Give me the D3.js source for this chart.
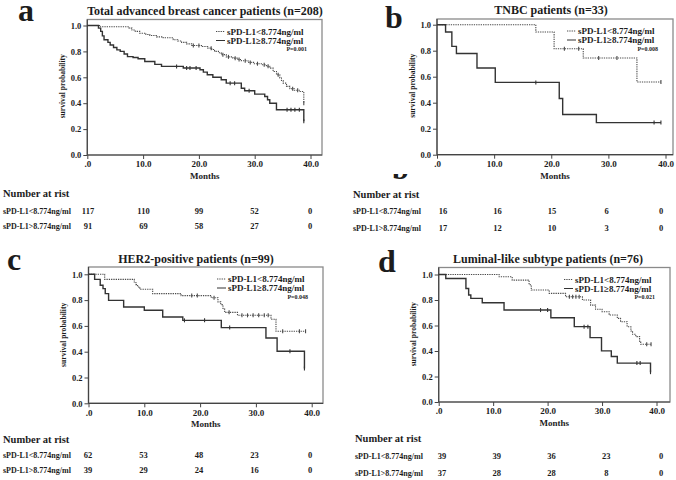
<!DOCTYPE html>
<html><head><meta charset="utf-8">
<script src="https://cdn.jsdelivr.net/npm/d3@7"></script>
<style>
body{margin:0;background:#fff}
svg{display:block}
text{font-family:"Liberation Serif","Times New Roman",serif;font-weight:bold;fill:#1c1c1c}
</style>
</head><body>
<svg id="chart" width="676" height="480"></svg>
<script>
// ---------- data ----------
const months = [0, 10, 20, 30, 40];
const monthLabels = [".0", "10.0", "20.0", "30.0", "40.0"];
const survTicks = [0, 0.2, 0.4, 0.6, 0.8, 1.0];
const survLabels = ["0.0", "0.2", "0.4", "0.6", "0.8", "1.0"];
const legendNames = ["sPD-L1<8.774ng/ml", "sPD-L1\u22658.774ng/ml"];
const riskNames = ["sPD-L1<8.774ng/ml", "sPD-L1>8.774ng/ml"];
const panelLetters = ["a", "b", "c", "d"];
const panelTitles = ["Total advanced breast cancer patients (n=208)", "TNBC patients (n=33)",
  "HER2-positive patients (n=99)", "Luminal-like subtype patients (n=76)"];
const pValues = ["P=0.001", "P=0.008", "P=0.048", "P=0.021"];

// Kaplan-Meier steps [month, survival] and censor times
const aLow = [[0,1],[2.2,0.99],[7.5,0.98],[8.0,0.965],[8.6,0.955],[9.4,0.94],[10.5,0.93],[11.2,0.923],[12.4,0.912],[13.6,0.905],[15.4,0.89],[16.2,0.88],[16.9,0.87],[17.8,0.858],[18.7,0.846],[20.6,0.838],[21.6,0.825],[22.3,0.815],[22.8,0.80],[23.5,0.79],[24.0,0.775],[24.9,0.758],[26.1,0.748],[27.0,0.738],[27.6,0.728],[28.8,0.715],[29.8,0.705],[31.2,0.697],[32.1,0.685],[32.7,0.671],[33.3,0.645],[33.9,0.62],[34.5,0.595],[34.8,0.575],[35.1,0.555],[35.7,0.53],[36.3,0.512],[37.1,0.50],[38.0,0.49],[38.8,0.40]];
const aLowCensor = [19.0,20.0,22.2,24.3,25.3,26.5,27.2,28.3,29.2,30.5,31.7,32.4,34.2,36.8,37.7,38.8];
const aHigh = [[0,1],[2.0,0.98],[2.4,0.955],[2.7,0.92],[3.0,0.89],[3.7,0.87],[4.1,0.85],[4.7,0.83],[5.3,0.812],[5.9,0.80],[6.6,0.78],[7.2,0.76],[8.2,0.753],[9.1,0.743],[10.3,0.722],[12.1,0.70],[13.3,0.684],[17.2,0.672],[20.2,0.658],[20.8,0.64],[21.5,0.62],[22.5,0.60],[24.0,0.581],[24.9,0.555],[27.6,0.515],[28.2,0.496],[30.0,0.47],[31.8,0.452],[32.3,0.427],[32.7,0.40],[33.9,0.35],[38.8,0.26]];
const aHighCensor = [16.0,17.8,18.4,19.5,25.6,26.4,29.0,35.8,36.5,37.2,38.0,38.8];

const bLow = [[0,1],[17.3,0.944],[20.5,0.815],[25.6,0.744],[35.0,0.559]];
const bLowCensor = [22.3,24.8,28.3,31.5,39.2];
const bHigh = [[0,1],[1.5,0.944],[2.6,0.833],[3.4,0.778],[7.0,0.667],[10.2,0.556],[21.4,0.432],[22.0,0.309],[27.9,0.247]];
const bHighCensor = [17.3,38.0,39.2];

const cLow = [[0,1],[2.9,0.961],[8.2,0.94],[8.5,0.92],[8.8,0.902],[9.2,0.884],[11.5,0.85],[16.6,0.835],[22.0,0.818],[23.2,0.786],[23.7,0.765],[24.1,0.73],[24.4,0.705],[26.7,0.682],[32.7,0.651],[33.6,0.558]];
const cLowCensor = [18.5,19.5,22.5,25.2,27.5,28.5,29.5,30.5,31.5,32.2,34.8,37.8,38.9];
const cHigh = [[0,1],[1.1,0.961],[2.1,0.915],[2.6,0.889],[3.0,0.85],[3.6,0.798],[6.3,0.747],[10.0,0.721],[13.3,0.669],[16.9,0.643],[23.8,0.587],[31.8,0.506],[33.8,0.403],[38.7,0.269]];
const cHighCensor = [17.2,20.8,25.3,36.1,38.7];

const dLow = [[0,1],[11.1,0.982],[13.5,0.956],[16.6,0.92],[17.0,0.878],[20.3,0.852],[23.3,0.826],[26.4,0.80],[27.9,0.76],[28.8,0.727],[30.0,0.708],[31.3,0.682],[32.8,0.656],[33.4,0.63],[34.6,0.59],[35.3,0.557],[35.6,0.531],[36.2,0.513],[36.9,0.474],[37.1,0.453]];
const dLowCensor = [24.0,24.6,25.2,25.8,38.2,39.0];
const dHigh = [[0,1],[1.3,0.969],[5.0,0.89],[5.5,0.839],[5.9,0.8125],[8.0,0.779],[12.0,0.721],[20.6,0.661],[24.9,0.591],[27.8,0.505],[29.9,0.401],[31.7,0.357],[32.8,0.305],[38.9,0.234]];
const dHighCensor = [18.7,20.0,26.7,27.4,36.4,37.0,38.9];

const aRisk = [[117,110,99,52,0],[91,69,58,27,0]];
const bRisk = [[16,16,15,6,0],[17,12,10,3,0]];
const cRisk = [[62,53,48,23,0],[39,29,24,16,0]];
const dRisk = [[39,39,36,23,0],[37,28,28,8,0]];

// ---------- layout ----------
const layout = [
  {x0:87.3,x40:310.5,yTop:25.5,yBot:155,fTop:19.5,fRight:322,titleX:205,titleY:15,letterX:18,letterY:21,riskX:3,riskCols:[88,310],riskY:[197,213.5,228.5]},
  {x0:437,x40:665.5,yTop:24.7,yBot:154.7,fTop:19,fRight:673,titleX:551,titleY:13.5,letterX:385,letterY:27.5,riskX:353,riskCols:[443,661],riskY:[198,213.5,231]},
  {x0:88.5,x40:311.7,yTop:274.3,yBot:403.3,fTop:267,fRight:323,titleX:196,titleY:262.5,letterX:7,letterY:270,riskX:3,riskCols:[88,310],riskY:[443,458,473]},
  {x0:438.7,x40:656.5,yTop:274.5,yBot:402,fTop:267.5,fRight:670,titleX:548,titleY:263,letterX:378,letterY:272,riskX:355,riskCols:[442,661],riskY:[442,458.5,476]}
];
const curves = [[aLow,aHigh],[bLow,bHigh],[cLow,cHigh],[dLow,dHigh]];
const censors = [[aLowCensor,aHighCensor],[bLowCensor,bHighCensor],[cLowCensor,cHighCensor],[dLowCensor,dHighCensor]];
const risks = [aRisk,bRisk,cRisk,dRisk];

const svg = d3.select("#chart");
svg.append("rect").attr("width",676).attr("height",480).attr("fill","#fff");

// clipped artefact glyph under panel b
svg.append("clipPath").attr("id","artClip").append("rect").attr("x",380).attr("y",174).attr("width",40).attr("height",5.5);
svg.append("text").attr("clip-path","url(#artClip)").attr("x",392).attr("y",179)
  .attr("font-size",30).text("b");

const styles = [
  {stroke:"#4a4a4a", width:1.1, dash:"1.3,1"},
  {stroke:"#333", width:1.4, dash:null}
];

function survAt(steps, t){
  let s = steps[0][1];
  for (const p of steps){ if (p[0] <= t + 1e-9) s = p[1]; }
  return s;
}

layout.forEach((L, i) => {
  const g = svg.append("g");
  const x = d3.scaleLinear().domain([0,40]).range([L.x0, L.x40]);
  const y = d3.scaleLinear().domain([0,1]).range([L.yBot, L.yTop]);

  // frame
  g.append("rect").attr("x",L.x0).attr("y",L.fTop).attr("width",L.fRight-L.x0).attr("height",L.yBot-L.fTop)
    .attr("fill","none").attr("stroke","#8a8a8a").attr("stroke-width",1.3);
  g.append("line").attr("x1",L.x0).attr("x2",L.x0).attr("y1",L.fTop).attr("y2",L.yBot).attr("stroke","#444").attr("stroke-width",1.2);
  g.append("line").attr("x1",L.x0).attr("x2",L.fRight).attr("y1",L.yBot).attr("y2",L.yBot).attr("stroke","#444").attr("stroke-width",1.2);

  // axes
  const ax = g.append("g").attr("transform",`translate(0,${L.yBot})`)
    .call(d3.axisBottom(x).tickValues(months).tickSize(4).tickPadding(2).tickFormat((d,k)=>monthLabels[k]));
  ax.select(".domain").remove();
  ax.selectAll("line").attr("stroke","#444");
  ax.selectAll("text").attr("font-size",9).attr("font-family","Liberation Serif").attr("font-weight","bold").attr("fill","#1c1c1c").attr("dy",null).attr("y",12.3);
  const ay = g.append("g").attr("transform",`translate(${L.x0},0)`)
    .call(d3.axisLeft(y).tickValues(survTicks).tickSize(4).tickPadding(2).tickFormat((d,k)=>survLabels[k]));
  ay.select(".domain").remove();
  ay.selectAll("line").attr("stroke","#444");
  ay.selectAll("text").attr("font-size",8.5).attr("font-family","Liberation Serif").attr("font-weight","bold").attr("fill","#1c1c1c");

  // axis titles
  g.append("text").attr("x",(L.x0+L.fRight)/2).attr("y",L.yBot+24).attr("text-anchor","middle").attr("font-size",9).text("Months");
  g.append("text").attr("transform",`translate(${L.x0-22.5},${(L.yTop+L.yBot)/2-4}) rotate(-90)`)
    .attr("text-anchor","middle").attr("font-size",7.6).text("survival probability");

  // title and letter
  g.append("text").attr("x",L.titleX).attr("y",L.titleY).attr("text-anchor","middle").attr("font-size",12).text(panelTitles[i]);
  g.append("text").attr("x",L.letterX).attr("y",L.letterY).attr("font-size",32).text(panelLetters[i]);

  // curves
  curves[i].forEach((steps, j) => {
    const st = styles[j];
    const endT = Math.max(steps[steps.length-1][0], d3.max(censors[i][j]));
    const pts = steps.concat([[endT, steps[steps.length-1][1]]]);
    const line = d3.line().x(d=>x(d[0])).y(d=>y(d[1])).curve(d3.curveStepAfter);
    g.append("path").attr("d",line(pts)).attr("fill","none").attr("stroke",st.stroke)
      .attr("stroke-width",st.width).attr("stroke-dasharray",st.dash);
    censors[i][j].forEach(t => {
      const cy = y(survAt(steps,t));
      g.append("line").attr("x1",x(t)).attr("x2",x(t)).attr("y1",cy-2).attr("y2",cy+2)
        .attr("stroke",st.stroke).attr("stroke-width",1.1);
    });
  });

  // legend
  const lx = L.fRight - 95;
  [0,1].forEach(j => {
    const ly = L.fTop + 15 + j*9;
    g.append("line").attr("x1",lx-11).attr("x2",lx-2).attr("y1",ly-3).attr("y2",ly-3)
      .attr("stroke",styles[j].stroke).attr("stroke-width",1).attr("stroke-dasharray",styles[j].dash);
    g.append("text").attr("x",lx).attr("y",ly).attr("font-size",9).text(legendNames[j]);
  });
  g.append("text").attr("x",L.fRight-15).attr("y",L.fTop+31.5).attr("text-anchor","end").attr("font-size",6).text(pValues[i]);

  // number at risk table
  const rx = d3.scaleLinear().domain([0,40]).range(L.riskCols);
  g.append("text").attr("x",L.riskX).attr("y",L.riskY[0]).attr("font-size",10.5).attr("font-weight","bold").text("Number at rist");
  risks[i].forEach((row, j) => {
    g.append("text").attr("x",L.riskX).attr("y",L.riskY[j+1]).attr("font-size",8).text(riskNames[j]);
    row.forEach((v, k) => {
      g.append("text").attr("x",rx(months[k])).attr("y",L.riskY[j+1]).attr("text-anchor","middle").attr("font-size",8.5).text(v);
    });
  });
});
</script>
</body></html>
